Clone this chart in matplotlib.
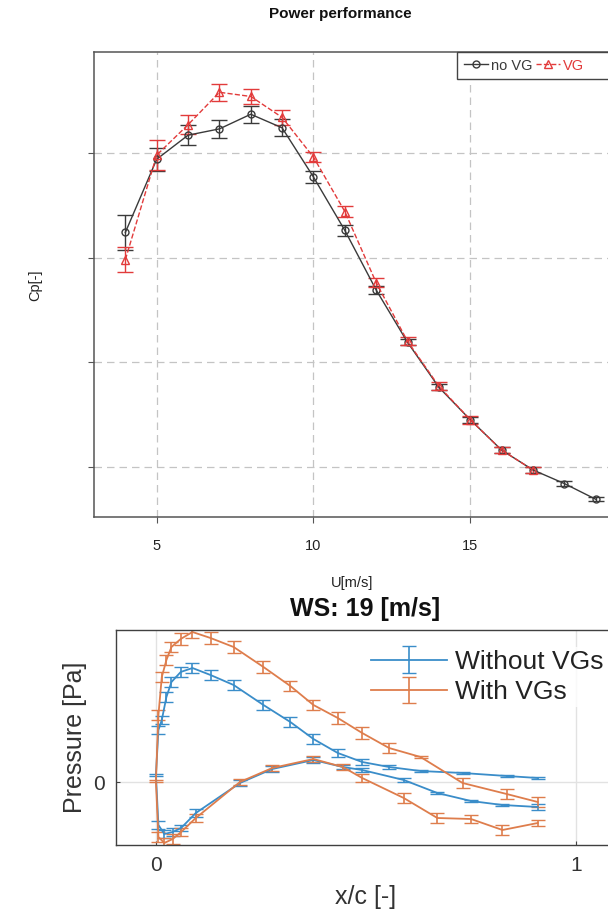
import numpy as np
import matplotlib.pyplot as plt
from matplotlib.patches import Rectangle

plt.rcParams['font.family'] = ['Liberation Sans', 'DejaVu Sans']

# power curve, Cp vs wind speed
u_novg = [4, 5, 6, 7, 8, 9, 10, 11, 12, 13, 14, 15, 16, 17, 18, 19]
cp_novg = [0.324, 0.394, 0.417, 0.423, 0.437, 0.424, 0.377, 0.326, 0.269,
           0.219, 0.176, 0.145, 0.116, 0.097, 0.084, 0.069]
err_novg = [0.017, 0.011, 0.0095, 0.0085, 0.008, 0.008, 0.006, 0.005, 0.004,
            0.003, 0.003, 0.003, 0.003, 0.003, 0.002, 0.002]

u_vg = [4, 5, 6, 7, 8, 9, 10, 11, 12, 13, 14, 15, 16, 17]
cp_vg = [0.298, 0.398, 0.427, 0.458, 0.454, 0.434, 0.396, 0.344, 0.276,
         0.220, 0.177, 0.145, 0.116, 0.097]
err_vg = [0.012, 0.014, 0.009, 0.008, 0.007, 0.007, 0.005, 0.005, 0.004,
          0.004, 0.004, 0.004, 0.003, 0.003]

# pressure taps at WS 19 m/s, suction side TE->LE, then pressure side LE->TE
xc_taps = [0.909, 0.835, 0.73, 0.63, 0.555, 0.491, 0.433, 0.375, 0.32, 0.256,
           0.185, 0.13, 0.087, 0.059, 0.037, 0.025, 0.014, 0.006,
           0.0,
           0.006, 0.02, 0.04, 0.06, 0.095, 0.2, 0.277, 0.375, 0.445, 0.491,
           0.59, 0.67, 0.75, 0.825, 0.909]
p_without = [4, 6, 9, 11, 15, 20, 29, 43, 60, 77, 97, 107, 114, 110, 100, 85, 62, 52,
             7,
             -43, -52, -50, -46, -31, -1, 13, 22, 15, 12, 2, -11, -19, -23, -25]
perr_without = [1, 1, 1, 1, 2, 3, 4, 5, 5, 5, 5, 5, 5, 5, 5, 5, 4, 4,
                1,
                4, 4, 4, 3, 4, 3, 3, 3, 2, 2, 2, 1, 1, 1, 3]
p_with = [-20, -12, -1, 25, 34, 49, 64, 77, 96, 115, 135, 144, 150, 143, 135, 122, 105, 67,
          1,
          -55, -61, -57, -50, -36, 0, 14, 23, 15, 4, -16, -36, -37, -48, -41]
perr_with = [5, 5, 5, 1, 5, 6, 6, 5, 5, 6, 6, 6, 6, 6, 5, 5, 5, 5,
             1,
             5, 5, 5, 4, 4, 3, 3, 3, 3, 4, 5, 5, 4, 5, 3]

W, H = 608, 919
fig = plt.figure(figsize=(W / 100, H / 100), dpi=100)

# ---------- top: power performance
ax1 = fig.add_axes([94 / W, 1 - 517 / H, (627 - 94) / W, (517 - 52) / H])
dark = '#3a3a3a'
red = '#e23b3b'
h1 = ax1.errorbar(u_novg, cp_novg, yerr=err_novg, color=dark, lw=1.0, marker='o',
                  ms=5, mfc='none', mew=1.0, capsize=5.5, elinewidth=1.0)
h2 = ax1.errorbar(u_vg, cp_vg, yerr=err_vg, color=red, lw=1.0, ls='--', marker='^',
                  ms=6, mfc='none', mew=1.0, capsize=5.5, elinewidth=1.0)
ax1.set_xlim(3, 20)
ax1.set_ylim(0.052, 0.4965)
ax1.set_xticks([5, 10, 15])
ax1.set_yticks([0.1, 0.2, 0.3, 0.4])
ax1.set_yticklabels([])
ax1.grid(True, color='#c4c4c4', ls=(0, (6, 4)), lw=0.9)
ax1.tick_params(direction='out', length=4, color='#555555', labelsize=10.5,
                labelcolor='#222222', pad=12)
for s in ax1.spines.values():
    s.set_color('#555555')
    s.set_linewidth(1.1)

# legend box runs past the right edge of the picture, as in the source figure
box = Rectangle((457 / W, 1 - 79 / H), 200 / W, 27 / H, transform=fig.transFigure,
                facecolor='white', edgecolor='#444444', lw=1.0, zorder=5, clip_on=False)
ax1.add_patch(box)
leg1 = ax1.legend([h1[0], h2[0]], ['no VG', 'VG'], ncol=2, loc='upper left',
                  bbox_to_anchor=((457 - 94) / (627 - 94), 1.0), fontsize=10.5,
                  frameon=False, handlelength=1.7, handletextpad=0.15,
                  columnspacing=0.25, borderpad=0.45, borderaxespad=0)
leg1.set_zorder(6)
for txt, c in zip(leg1.get_texts(), [dark, red]):
    txt.set_color(c)

fig.text(340 / W, 1 - 14 / H, 'Power performance', ha='center', va='center',
         fontsize=11, fontweight='bold', color='#111111')
fig.text(352 / W, 1 - 583 / H, 'U[m/s]', ha='center', va='center', fontsize=10.5,
         color='#222222')
fig.text(35 / W, 1 - 285 / H, 'Cp[-]', ha='center', va='center', fontsize=10.5,
         rotation=90, color='#222222')

# ---------- bottom: pressure distribution
ax2 = fig.add_axes([116 / W, 1 - 845 / H, (660 - 116) / W, (845 - 630) / H])
blue = '#3a8dc9'
orange = '#de7d4c'
e1 = ax2.errorbar(xc_taps, p_without, yerr=perr_without, color=blue, lw=1.3,
                  capsize=4.7, elinewidth=1.2)
e2 = ax2.errorbar(xc_taps, p_with, yerr=perr_with, color=orange, lw=1.3,
                  capsize=4.7, elinewidth=1.2)
ax2.set_xlim(-0.095, 1.2)
ax2.set_ylim(-63, 152)
ax2.set_xticks([0, 1])
ax2.set_yticks([0])
ax2.grid(True, color='#e2e2e2', lw=1.0)
ax2.set_axisbelow(True)
ax2.tick_params(direction='in', length=3, color='#444444', labelsize=15,
                labelcolor='#333333', pad=8)
for s in ax2.spines.values():
    s.set_color('#404040')
    s.set_linewidth(1.0)
leg2 = ax2.legend([e1, e2], ['Without VGs', 'With VGs'], loc='upper left',
                  bbox_to_anchor=(355 / W, 1 - 634 / H), bbox_transform=fig.transFigure,
                  fontsize=19, frameon=True, facecolor='white', edgecolor='none',
                  handlelength=2.9, handletextpad=0.3, borderpad=0.1,
                  labelspacing=0.25)
for txt in leg2.get_texts():
    txt.set_color('#222222')

fig.text(365 / W, 1 - 609 / H, 'WS: 19 [m/s]', ha='center', va='center',
         fontsize=18, fontweight='bold', color='#111111')
fig.text(366 / W, 1 - 897 / H, 'x/c [-]', ha='center', va='center', fontsize=18,
         color='#333333')
fig.text(75 / W, 1 - 737 / H, 'Pressure [Pa]', ha='center', va='center',
         fontsize=18, rotation=90, color='#333333')

fig.savefig('out.png', dpi=100)
